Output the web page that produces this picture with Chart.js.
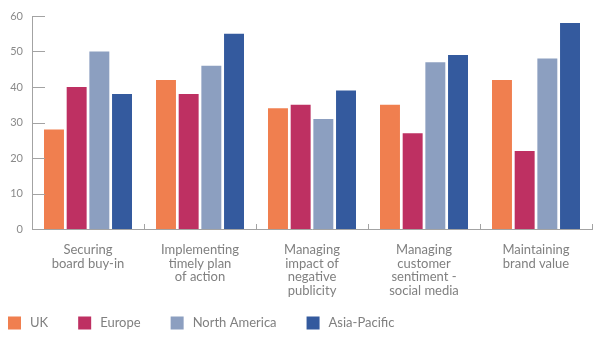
<!DOCTYPE html>
<html>
<head>
<meta charset="utf-8">
<script src="https://cdn.jsdelivr.net/npm/chart.js@4/dist/chart.umd.min.js"></script>
<style>
  body { margin: 0; background: #fff; }
  #wrap { width: 597px; height: 362px; }
</style>
</head>
<body>
<div id="wrap"><canvas id="chart" width="597" height="362"></canvas></div>
<script>
const categories = [
  ['Securing', 'board buy-in'],
  ['Implementing', 'timely plan', 'of action'],
  ['Managing', 'impact of', 'negative', 'publicity'],
  ['Managing', 'customer', 'sentiment -', 'social media'],
  ['Maintaining', 'brand value']
];
const ukValues = [28, 42, 34, 35, 42];
const europeValues = [40, 38, 35, 27, 22];
const northAmericaValues = [50, 46, 31, 47, 48];
const asiaPacificValues = [38, 55, 39, 49, 58];
const yTicks = [0, 10, 20, 30, 40, 50, 60];

const seriesNames = ['UK', 'Europe', 'North America', 'Asia-Pacific'];
const seriesColors = ['#f07f4f', '#be3062', '#8c9fc0', '#345a9e'];
const seriesValues = [ukValues, europeValues, northAmericaValues, asiaPacificValues];

const textColor = '#808080';
const axisColor = '#a3a3a3';

// short ticks drawn inside the plot, plus the legend row
const innerTicks = {
  id: 'innerTicks',
  afterDraw(chart) {
    const ctx = chart.ctx;
    const x = chart.scales.x;
    const y = chart.scales.y;
    const area = chart.chartArea;
    ctx.save();
    ctx.strokeStyle = axisColor;
    ctx.lineWidth = 1;
    yTicks.forEach(v => {
      const py = Math.round(y.getPixelForValue(v)) + 0.5;
      ctx.beginPath();
      ctx.moveTo(area.left, py);
      ctx.lineTo(area.left + 13, py);
      ctx.stroke();
    });
    const step = x.getPixelForValue(1) - x.getPixelForValue(0);
    for (let i = 1; i <= categories.length; i++) {
      const px = Math.round(x.getPixelForValue(i) - step / 2) + 0.5;
      ctx.beginPath();
      ctx.moveTo(px, area.bottom - 5);
      ctx.lineTo(px, area.bottom);
      ctx.stroke();
    }

    // legend
    ctx.font = '13px Lato';
    ctx.textBaseline = 'middle';
    ctx.textAlign = 'left';
    let lx = 8;
    const ly = 323;
    chart.data.datasets.forEach(ds => {
      ctx.fillStyle = ds.backgroundColor;
      ctx.fillRect(lx, ly - 6.5, 13, 13);
      lx += 13 + 9;
      ctx.fillStyle = textColor;
      ctx.fillText(ds.label, lx, ly);
      lx += ctx.measureText(ds.label).width + 30;
    });
    ctx.restore();
  }
};

new Chart(document.getElementById('chart'), {
  type: 'bar',
  data: {
    labels: categories,
    datasets: seriesNames.map((name, i) => ({
      label: name,
      data: seriesValues[i],
      backgroundColor: seriesColors[i],
      categoryPercentage: 0.81,
      barPercentage: 0.88
    }))
  },
  options: {
    responsive: false,
    animation: false,
    layout: { padding: { top: 16, right: 5, bottom: 0, left: 0 } },
    plugins: {
      legend: { display: false },
      tooltip: { enabled: false }
    },
    scales: {
      x: {
        grid: { display: false, drawTicks: false },
        border: { display: true, color: axisColor },
        ticks: {
          color: textColor,
          font: { family: 'Lato', size: 13, lineHeight: 1.05 },
          padding: 14,
          maxRotation: 0,
          autoSkip: false
        },
        afterFit(scale) { scale.height = 133; }
      },
      y: {
        min: 0,
        max: 60,
        grid: { display: false, drawTicks: false },
        border: { display: true, color: axisColor },
        ticks: {
          stepSize: 10,
          color: '#8a8a8a',
          font: { family: 'Lato', size: 11 },
          padding: 9
        },
        afterFit(scale) { scale.width = 32; }
      }
    }
  },
  plugins: [innerTicks]
});
</script>
</body>
</html>
